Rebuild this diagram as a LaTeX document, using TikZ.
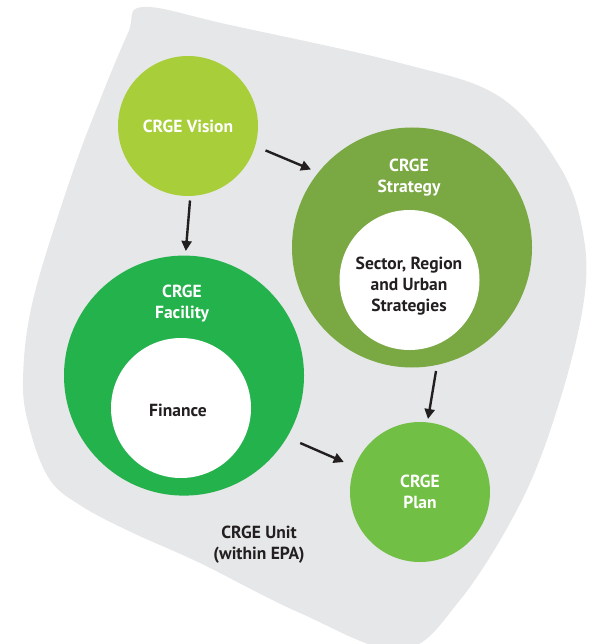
\documentclass[tikz,border=0pt]{standalone}
\usepackage{fontspec}
\setmainfont{PT Sans}
\usetikzlibrary{shapes.geometric,arrows.meta,calc}
\definecolor{blobgray}{HTML}{E6E7E8}
\definecolor{visioncol}{HTML}{A8CE3A}
\definecolor{strategycol}{HTML}{7AA843}
\definecolor{facilitycol}{HTML}{24B24D}
\definecolor{plancol}{HTML}{72BF45}
\definecolor{darktext}{HTML}{231F20}
\tikzset{
  oval/.style={circle, inner sep=0pt, align=center},
  lbl/.style={inner sep=0pt, align=center},
  arr/.style={draw=darktext, line width=2.4pt, -{Triangle[length=10pt,width=10pt]}},
}
\begin{document}
\begin{tikzpicture}[x=1pt,y=-1pt,font=\bfseries\fontsize{17.5}{21}\selectfont]
\useasboundingbox (0,0) rectangle (588,644);
\clip (0,0) rectangle (588,644);
% outline points of the grey region
\foreach \px/\py [count=\k from 0] in {143/7,230/25,400/63,500/97,560/167,583/233,584/300,560/400,522/500,460/600,400/650,300/613,200/563,133/533,83/507,50/480,30/430,23/380,33/300,70/180,100/100,128/33}
  \coordinate (p\k) at (\px,\py);
\fill[blobgray] (p0)
  \foreach \i [evaluate=\i as \a using {int(mod(\i+21,22))},
               evaluate=\i as \b using {int(mod(\i+1,22))},
               evaluate=\i as \c using {int(mod(\i+2,22))}] in {0,...,21}
  { .. controls ($(p\i)+0.1667*(p\b)-0.1667*(p\a)$) and ($(p\b)-0.1667*(p\c)+0.1667*(p\i)$) .. (p\b) }
  -- cycle;

\node[oval, fill=visioncol, minimum size=140pt, text=white] (vision) at (188,126) {CRGE Vision};

\node[oval, fill=strategycol, minimum size=240pt] (strategy) at (412,247.5) {};
\node[lbl, text=white] (strategylbl) at (409,177.5) {CRGE\\Strategy};
\node[oval, fill=white, minimum size=140pt] (strategyin) at (409.5,280) {};
\node[lbl, text=darktext] (strategytxt) at (409,286) {Sector, Region\\and Urban\\Strategies};

\node[oval, fill=facilitycol, minimum size=240pt] (facility) at (184,375.6) {};
\node[lbl, text=white] (facilitylbl) at (182,303.7) {CRGE\\Facility};
\node[oval, fill=white, minimum size=140pt] (facilityin) at (181,408) {};
\node[lbl, text=darktext] (finance) at (178,410.8) {Finance};

\node[oval, fill=plancol, minimum size=140pt] (plan) at (420,492) {};
\node[lbl, text=white] (planlbl) at (420,491.4) {CRGE\\Plan};

\node[lbl, text=darktext] (unit) at (259,544.5) {CRGE Unit\\(within EPA)};

\draw[arr] ($(vision)+(77.5,24.4)$) -- ($(strategy)+(-101,-78)$);
\draw[arr] ($(vision)+(2,74.5)$) -- ($(facility)+(1.8,-124.6)$);
\draw[arr] ($(strategy)+(24,123.5)$) -- ($(plan)+(8,-73)$);
\draw[arr] ($(facility)+(116.2,67.4)$) -- ($(plan)+(-76.2,-30)$);
\end{tikzpicture}
\end{document}
